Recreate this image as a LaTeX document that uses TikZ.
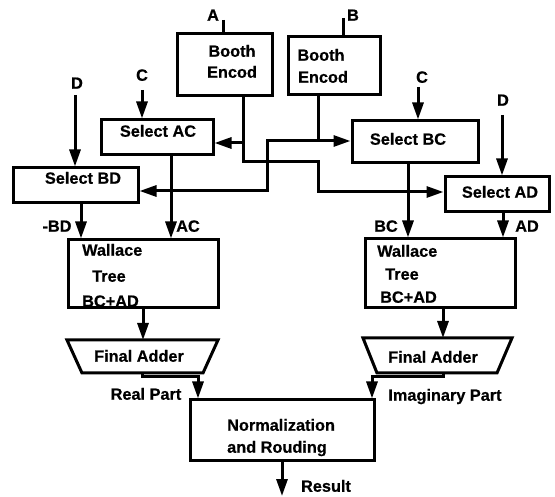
\documentclass[tikz,border=0pt]{standalone}
\usepackage{fontspec}
\setmainfont{Liberation Sans}
\newfontfamily\heavyfont{Liberation Sans Bold}[FakeBold=0.6]
\usetikzlibrary{arrows.meta}
\begin{document}
\begin{tikzpicture}[x=1pt,y=-1pt,
  box/.style={draw,line width=3pt,inner sep=0pt},
  lbl/.style={font=\fontsize{16.3}{18}\heavyfont,inner sep=0pt,text height=11.5pt,text depth=0pt},
  wire/.style={line width=3pt},
  arr/.style={line width=3pt,-{Triangle[length=17pt,width=11pt]}}]
\useasboundingbox (0,0) rectangle (555,497);
% boxes
\node[box,minimum width=95pt,minimum height=62pt] (encA) at (224.5,65) {};
\node[box,minimum width=92pt,minimum height=58pt] (encB) at (334,66) {};
\node[box,minimum width=112pt,minimum height=35pt] (selAC) at (157,137.5) {};
\node[box,minimum width=125pt,minimum height=35pt] (selBD) at (75.5,185.5) {};
\node[box,minimum width=126pt,minimum height=42pt] (selBC) at (415,142) {};
\node[box,minimum width=104pt,minimum height=35pt] (selAD) at (497,194.5) {};
\node[box,minimum width=150pt,minimum height=68pt] (walL) at (143,274) {};
\node[box,minimum width=150pt,minimum height=69pt] (walR) at (440,273.5) {};
\node[box,minimum width=184pt,minimum height=60pt] (norm) at (282,430) {};
\draw[box] (67,340) -- (218,340) -- (203,373) -- (82,373) -- cycle;
\draw[box] (363,338) -- (512,338) -- (497,373) -- (377,373) -- cycle;
\coordinate (faLt) at (143,340);
\coordinate (faLb) at (142,373);
\coordinate (faRt) at (443,338);
\coordinate (faRb) at (443,373);
% texts
\node[lbl] (tA) at (213,15) {A};
\node[lbl] (tB) at (353,15) {B};
\node[lbl] (tEa1) at (232,51) {Booth};
\node[lbl] (tEa2) at (232,72) {Encod};
\node[lbl] (tEb1) at (321,55) {Booth};
\node[lbl] (tEb2) at (323,77) {Encod};
\node[lbl] (tC1) at (142,75) {C};
\node[lbl] (tD1) at (77,83) {D};
\node[lbl] (tC2) at (422,77) {C};
\node[lbl] (tD2) at (503,100) {D};
\node[lbl] (tSAC) at (158,131) {Select AC};
\node[lbl] (tSBD) at (83,178) {Select BD};
\node[lbl] (tSBC) at (408,139) {Select BC};
\node[lbl] (tSAD) at (500,192) {Select AD};
\node[lbl] (tmBD) at (57,226) {-BD};
\node[lbl] (tAC) at (188,226) {AC};
\node[lbl] (tBC) at (386,226) {BC};
\node[lbl] (tAD) at (527,226) {AD};
\node[lbl,anchor=west] (tWL1) at (82,250) {Wallace};
\node[lbl,anchor=west] (tWL2) at (92,276) {Tree};
\node[lbl,anchor=west] (tWL3) at (82,301) {BC+AD};
\node[lbl,anchor=west] (tWR1) at (377,251) {Wallace};
\node[lbl,anchor=west] (tWR2) at (385,274) {Tree};
\node[lbl,anchor=west] (tWR3) at (380,297) {BC+AD};
\node[lbl] (faL) at (139,356) {Final Adder};
\node[lbl] (faR) at (433,357) {Final Adder};
\node[lbl] (tRP) at (146,394) {Real Part};
\node[lbl] (tIP) at (445,395) {Imaginary Part};
\node[lbl,anchor=west] (tN1) at (227,425) {Normalization};
\node[lbl,anchor=west] (tN2) at (227,447) {and Rouding};
\node[lbl] (tRes) at (326,486) {Result};
% inputs
\coordinate (inA) at (223,20);
\draw[wire] (inA) -- (inA |- encA.north);
\coordinate (inB) at (343,18);
\draw[wire] (inB) -- (inB |- encB.north);
\coordinate (inC1) at (142,90);
\draw[arr] (inC1) -- (inC1 |- selAC.north);
\coordinate (inD1) at (75,95);
\draw[arr] (inD1) -- (inD1 |- selBD.north);
\coordinate (inC2) at (418,87);
\draw[arr] (inC2) -- (inC2 |- selBC.north);
\coordinate (inD2) at (502,115);
\draw[arr] (inD2) -- (inD2 |- selAD.north);
% booth encoder outputs
\draw[arr] (243,0 |- encA.south) -- (243,162) -- (318,162) -- (318,192) -- (selAD.west |- 0,192);
\draw[arr] (243,143) -- (selAC.east |- 0,143);
\draw[arr] (318,0 |- encB.south) -- (318,141) -- (selBC.west |- 0,141);
\draw[arr] (318,141) -- (267,141) -- (267,191) -- (selBD.east |- 0,191);
% select outputs
\draw[arr] (81,0 |- selBD.south) -- (81,0 |- walL.north);
\draw[arr] (171,0 |- selAC.south) -- (171,0 |- walL.north);
\draw[arr] (408,0 |- selBC.south) -- (408,0 |- walR.north);
\draw[arr] (503,0 |- selAD.south) -- (503,0 |- walR.north);
% wallace to adders
\draw[arr] (143,0 |- walL.south) -- (faLt);
\draw[arr] (443,0 |- walR.south) -- (faRt);
% adders to normalization
\draw[arr] (faLb) -- ++(0,4) -| (198,0 |- norm.north);
\draw[arr] (faRb) -- ++(0,4) -| (372,0 |- norm.north);
\coordinate (res) at (282,496);
\draw[arr] (norm.south) -- (res);
\end{tikzpicture}
\end{document}
